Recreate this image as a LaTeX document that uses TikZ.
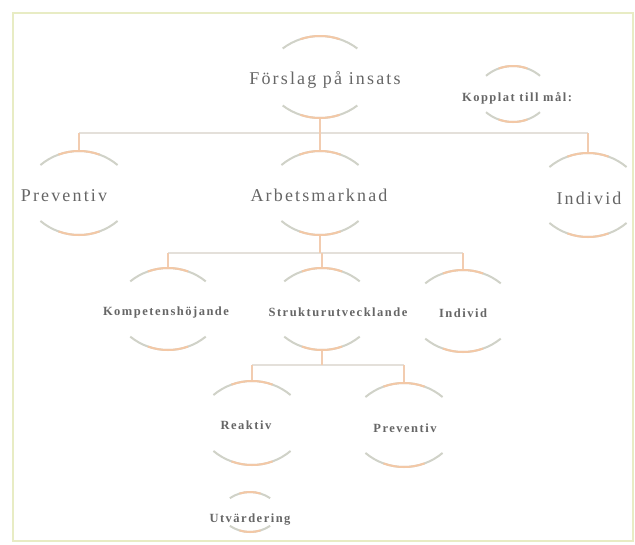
\documentclass[tikz,border=0pt]{standalone}
\usepackage{fontspec}
\setmainfont{Liberation Serif}[LetterSpace=12]
\usetikzlibrary{calc}
\definecolor{txt}{RGB}{102,102,102}
\definecolor{framecol}{RGB}{232,236,196}
\definecolor{peach}{RGB}{243,200,166}
\definecolor{arcgray}{RGB}{208,210,200}
\definecolor{buscol}{RGB}{228,224,218}
\definecolor{stemcol}{RGB}{242,204,176}
\tikzset{
  ringnode/.style={circle, inner sep=0pt, draw=none},
  arcbase/.style={draw=arcgray, line width=2pt},
  arcmid/.style={draw=peach, line width=2pt},
  bigtxt/.style={text=txt, font=\fontsize{18}{20}\selectfont, inner sep=0pt},
  smalltxt/.style={text=txt, font=\bfseries\fontsize{12.5}{14}\selectfont, inner sep=0pt},
  busline/.style={draw=buscol, line width=1.8pt},
  stemline/.style={draw=stemcol, line width=1.8pt},
  framestyle/.style={draw=framecol, line width=2.5pt}
}
% name, apex distance, arc radius, half-angle
\newcommand\ringarcs[4]{%
  \draw[arcbase] ($(#1)+(0,#2-#3)+({90-#4}:#3)$) arc[start angle={90-#4}, end angle={90+#4}, radius=#3pt];
  \draw[arcmid] ($(#1)+(0,#2-#3)+({90-#4/2}:#3)$) arc[start angle={90-#4/2}, end angle={90+#4/2}, radius=#3pt];
  \draw[arcbase] ($(#1)+(0,#3-#2)+({270-#4}:#3)$) arc[start angle={270-#4}, end angle={270+#4}, radius=#3pt];
  \draw[arcmid] ($(#1)+(0,#3-#2)+({270-#4/2}:#3)$) arc[start angle={270-#4/2}, end angle={270+#4/2}, radius=#3pt];
}
\begin{document}
\begin{tikzpicture}[x=1pt, y=1pt]
\useasboundingbox (0,0) rectangle (635,-544);
\fill[white] (0,0) rectangle (635,-544);
\draw[framestyle] (13,-13) rectangle (633,-541);

% circle holders
\node[ringnode, minimum size=82] (fs) at (320,-77) {};
\node[ringnode, minimum size=56] (kop) at (513,-94) {};
\node[ringnode, minimum size=84] (pv1) at (79,-193) {};
\node[ringnode, minimum size=84] (am) at (320,-193) {};
\node[ringnode, minimum size=84] (in1) at (588,-195) {};
\node[ringnode, minimum size=82] (kh) at (168,-309) {};
\node[ringnode, minimum size=82] (su) at (322,-309) {};
\node[ringnode, minimum size=82] (in2) at (463,-311) {};
\node[ringnode, minimum size=84] (re) at (252,-423) {};
\node[ringnode, minimum size=84] (pv3) at (404,-425) {};
\node[ringnode, minimum size=40] (ut) at (250,-512) {};

% bus coordinates
\coordinate (b1) at (320,-133);
\coordinate (b2) at (320,-253);
\coordinate (b3) at (322,-365);

% connectors level 1
\draw[busline] (pv1.north |- b1) -- (in1.north |- b1);
\draw[stemline] (fs.south) -- (fs.south |- b1);
\draw[stemline] (pv1.north |- b1) -- (pv1.north);
\draw[stemline] (am.north |- b1) -- (am.north);
\draw[stemline] (in1.north |- b1) -- (in1.north);
% connectors level 2
\draw[busline] (kh.north |- b2) -- (in2.north |- b2);
\draw[stemline] (am.south) -- (am.south |- b2);
\draw[stemline] (kh.north |- b2) -- (kh.north);
\draw[stemline] (su.north |- b2) -- (su.north);
\draw[stemline] (in2.north |- b2) -- (in2.north);
% connectors level 3
\draw[busline] (re.north |- b3) -- (pv3.north |- b3);
\draw[stemline] (su.south) -- (su.south |- b3);
\draw[stemline] (re.north |- b3) -- (re.north);
\draw[stemline] (pv3.north |- b3) -- (pv3.north);

% arcs
\ringarcs{fs}{41}{62}{37}
\ringarcs{kop}{28}{42}{40}
\ringarcs{pv1}{42}{60}{40}
\ringarcs{am}{42}{60}{40}
\ringarcs{in1}{42}{60}{40}
\ringarcs{kh}{41}{60}{39}
\ringarcs{su}{41}{60}{39}
\ringarcs{in2}{41}{60}{39}
\ringarcs{re}{42}{60}{40}
\ringarcs{pv3}{42}{60}{40}
\ringarcs{ut}{20}{36}{34}

% labels
\node[bigtxt] (fs-t) at (325,-80) {Förslag på insats};
\node[smalltxt] (kop-t) at (517,-98) {Kopplat till mål:};
\node[bigtxt] (pv1-t) at (64,-196) {Preventiv};
\node[bigtxt] (am-t) at (319,-195) {Arbetsmarknad};
\node[bigtxt] (in1-t) at (589,-198) {Individ};
\node[smalltxt] (kh-t) at (166,-312) {Kompetenshöjande};
\node[smalltxt] (su-t) at (338,-312) {Strukturutvecklande};
\node[smalltxt] (in2-t) at (463,-313) {Individ};
\node[smalltxt] (re-t) at (246,-425) {Reaktiv};
\node[smalltxt] (pv3-t) at (405,-428) {Preventiv};
\node[smalltxt] (ut-t) at (250,-520) {Utvärdering};
\end{tikzpicture}
\end{document}
